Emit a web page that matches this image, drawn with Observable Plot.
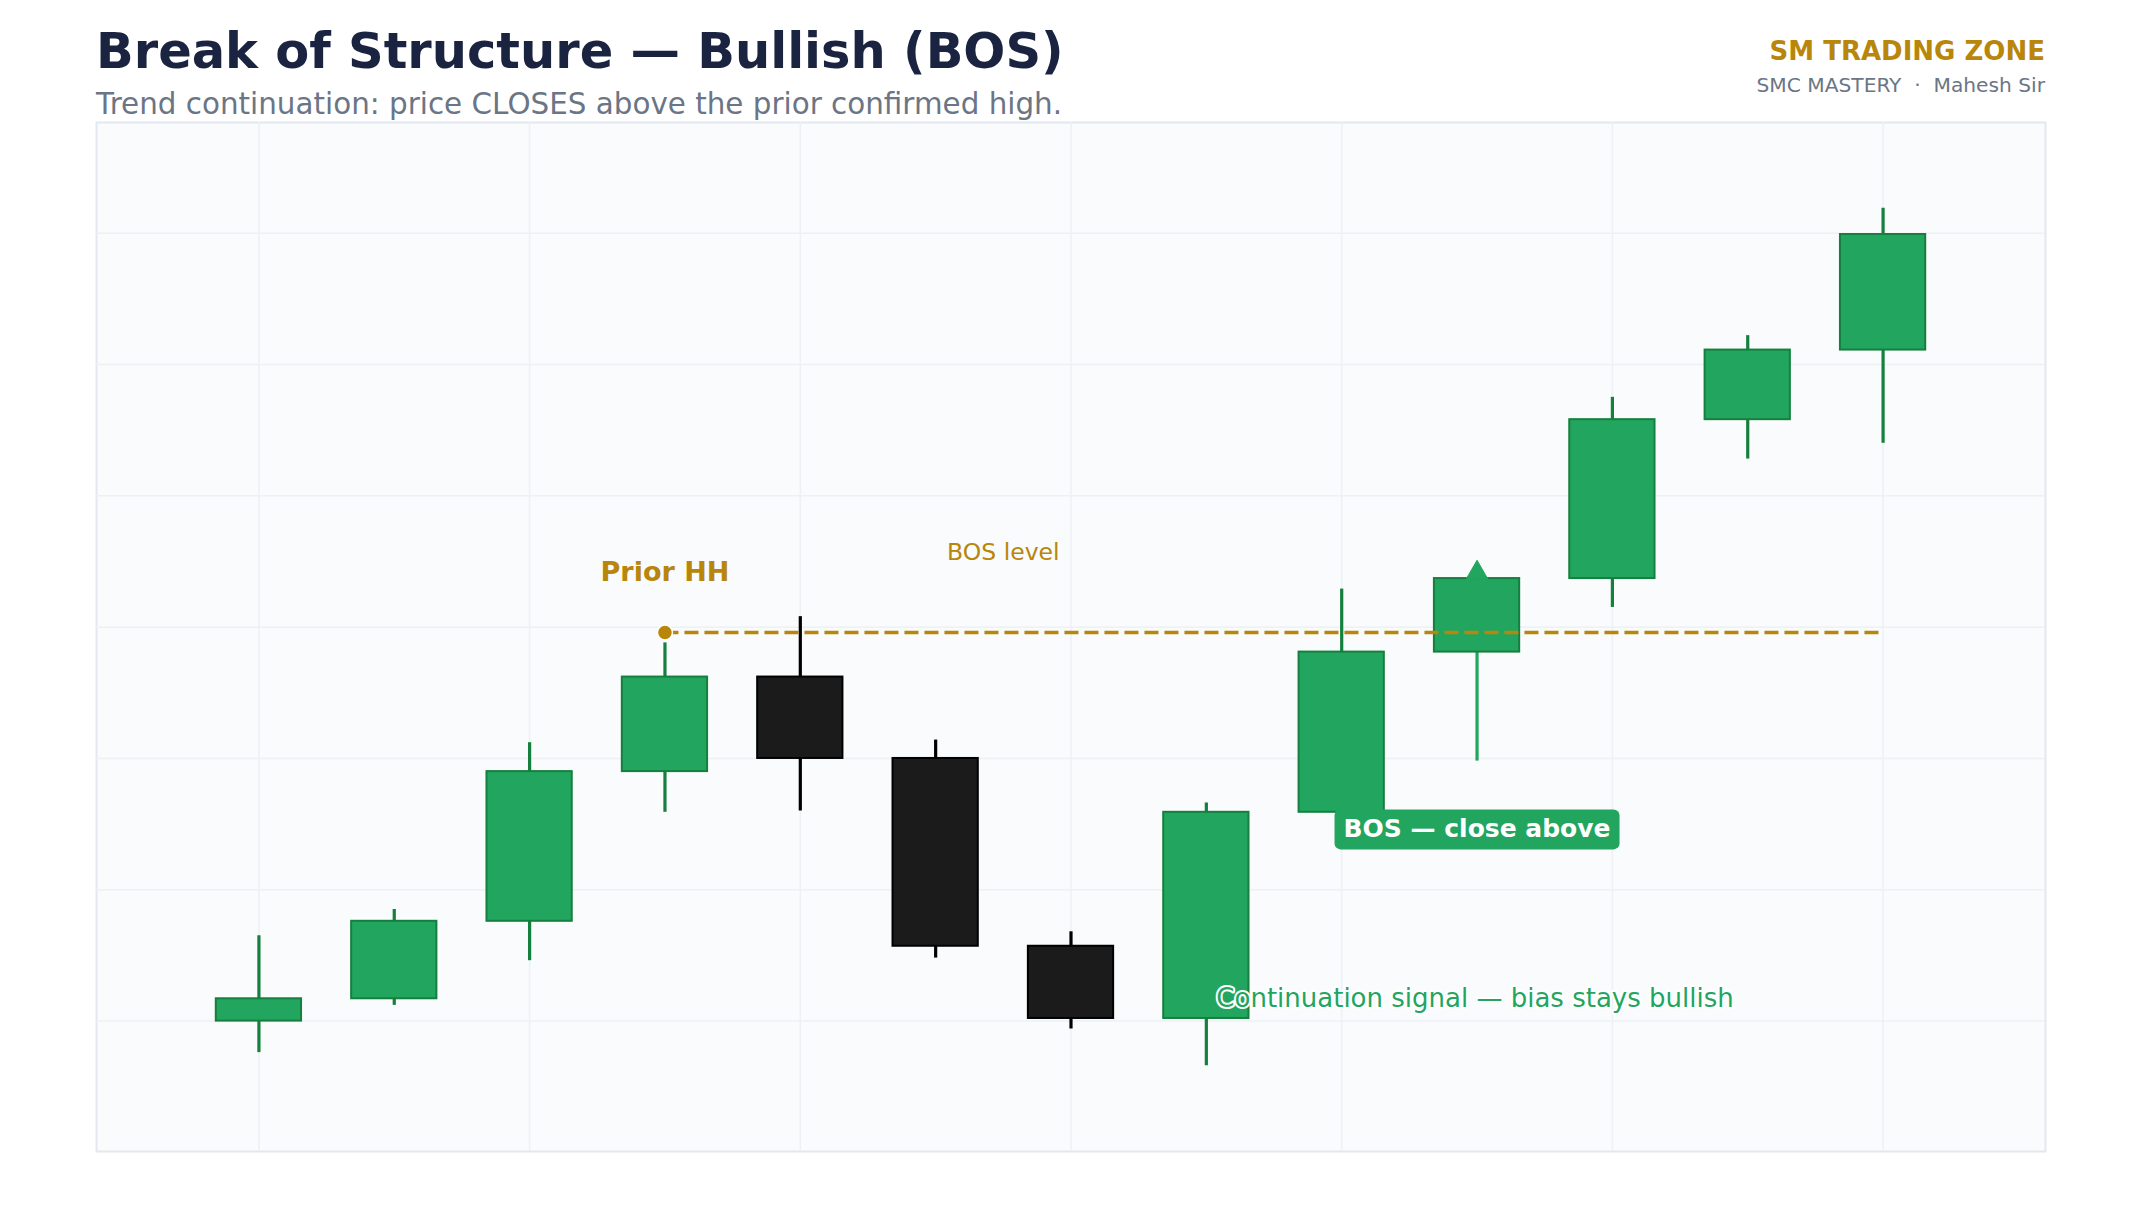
<!DOCTYPE html>
<html>
<head>
<meta charset="utf-8">
<script src="https://cdn.jsdelivr.net/npm/d3@7"></script>
<script src="https://cdn.jsdelivr.net/npm/@observablehq/plot@0.6"></script>
<style>
  html, body { margin: 0; padding: 0; background: #ffffff; }
  body { width: 2142px; height: 1224px; overflow: hidden; font-family: "DejaVu Sans", sans-serif; position: relative; }
  #header { position: absolute; left: 0; top: 0; overflow: visible; }
  #chart { padding-top: 120px; }
  #chart svg { display: block; }
</style>
</head>
<body>
<svg id="header" width="2142" height="130" xmlns="http://www.w3.org/2000/svg">
  <text x="96" y="68" font-family="DejaVu Sans" font-weight="bold" font-size="49.5" fill="#1a2340">Break of Structure — Bullish (BOS)</text>
  <text x="96" y="114" font-family="DejaVu Sans" font-size="29.4" fill="#6b7585">Trend continuation: price CLOSES above the prior confirmed high.</text>
  <text x="2045" y="60" text-anchor="end" font-family="DejaVu Sans" font-weight="bold" font-size="26" fill="#b8860b">SM TRADING ZONE</text>
  <text x="2045" y="92" text-anchor="end" font-family="DejaVu Sans" font-size="20.2" fill="#6b7585" xml:space="preserve">SMC MASTERY  ·  Mahesh Sir</text>
</svg>
<div id="chart"></div>
<script>
// ---- data ----
const candleIndex = [0, 1, 2, 3, 4, 5, 6, 7, 8, 9, 10, 11, 12];
const opens  = [100.0, 101.7, 107.6, 119.0, 126.2, 120.0, 105.7, 100.2, 115.9, 128.1, 133.7, 145.8, 151.1];
const highs  = [106.5, 108.5, 121.2, 128.8, 130.8, 121.4, 106.8, 116.6, 132.9, 133.7, 147.5, 152.2, 161.9];
const lows   = [ 97.6, 101.2, 104.6, 115.9, 116.0, 104.8,  99.4,  96.6, 115.5, 119.8, 131.5, 142.8, 144.0];
const closes = [101.7, 107.6, 119.0, 126.2, 120.0, 105.7, 100.2, 115.9, 128.1, 133.7, 145.8, 151.1, 159.9];

const xGridTicks = [0, 2, 4, 6, 8, 10, 12];
const yGridTicks = [100, 110, 120, 130, 140, 150, 160];

const priorHHIndex = 3;
const bosIndex = 9;
const bosLevel = 129.6;
const bosLineEnd = 12;

const labelTexts = ["Prior HH", "BOS level", "BOS — close above", "Continuation signal — bias stays bullish"];
const labelX = [3, 5.5, 9, 7];
const labelY = [134.2, 135.7, 114.6, 101.7];

// ---- styles ----
const GREEN = "#22a55f";
const GREEN_DARK = "#15803d";
const BLACK_FILL = "#1b1b1b";
const BLACK_STROKE = "#000000";
const GOLD = "#b8860b";

const candles = candleIndex.map((i, k) => ({
  i, open: opens[k], high: highs[k], low: lows[k], close: closes[k]
}));
const isUp = d => d.close >= d.open;

const lo = d3.min(lows), hi = d3.max(highs);
const yPad = 0.1 * (hi - lo);
const xFirst = d3.min(candleIndex), xLast = d3.max(candleIndex);
const xPad = 0.1 * (xLast - xFirst);

const bodyHalf = 0.315;

const labels = labelTexts.map((t, k) => ({text: t, x: labelX[k], y: labelY[k]}));
const bosLine = [{level: bosLevel, from: priorHHIndex, to: bosLineEnd}];

// measure box label
const cv = document.createElement("canvas").getContext("2d");
cv.font = "bold 25px 'DejaVu Sans'";
const boxW = cv.measureText(labels[2].text).width + 18;
const boxH = 40;
function roundedBox(w, h, rr) {
  return {
    draw(context) {
      const x0 = -w / 2, y0 = -h / 2, x1 = w / 2, y1 = h / 2;
      context.moveTo(x0 + rr, y0);
      context.lineTo(x1 - rr, y0);
      context.arcTo(x1, y0, x1, y0 + rr, rr);
      context.lineTo(x1, y1 - rr);
      context.arcTo(x1, y1, x1 - rr, y1, rr);
      context.lineTo(x0 + rr, y1);
      context.arcTo(x0, y1, x0, y1 - rr, rr);
      context.lineTo(x0, y0 + rr);
      context.arcTo(x0, y0, x0 + rr, y0, rr);
      context.closePath();
    }
  };
}

const chart = Plot.plot({
  width: 2142,
  height: 1033,
  marginLeft: 96,
  marginRight: 97,
  marginTop: 2,
  marginBottom: 2,
  x: {domain: [xFirst - xPad, xLast + xPad], axis: null},
  y: {domain: [lo - yPad, hi + yPad], axis: null},
  style: {fontFamily: "DejaVu Sans", background: "transparent", overflow: "visible"},
  marks: [
    Plot.frame({fill: "#f9fbfd", stroke: "#e3e7ef", strokeWidth: 2}),
    Plot.ruleX(xGridTicks, {stroke: "#edf0f4", strokeWidth: 1.5}),
    Plot.ruleY(yGridTicks, {stroke: "#edf0f4", strokeWidth: 1.5}),
    // wicks
    Plot.ruleX(candles, {
      x: "i", y1: "low", y2: "high", strokeWidth: 3.2,
      stroke: d => d.i === bosIndex ? GREEN : (isUp(d) ? GREEN_DARK : BLACK_STROKE)
    }),
    // bodies
    Plot.rect(candles, {
      x1: d => d.i - bodyHalf, x2: d => d.i + bodyHalf,
      y1: d => Math.min(d.open, d.close), y2: d => Math.max(d.open, d.close),
      fill: d => isUp(d) ? GREEN : BLACK_FILL,
      stroke: d => isUp(d) ? GREEN_DARK : BLACK_STROKE,
      strokeWidth: 2
    }),
    // BOS marker triangle
    Plot.dot(candles.filter(d => d.i === bosIndex), {
      x: "i", y: "close", symbol: "triangle", r: 7.9, dy: -6, fill: GREEN, stroke: GREEN, strokeWidth: 1, strokeLinejoin: "round"
    }),
    // BOS level dashed line
    Plot.ruleY(bosLine, {
      y: "level", x1: "from", x2: "to", stroke: GOLD, strokeWidth: 3.5, strokeDasharray: "14,6"
    }),
    Plot.dot(bosLine, {x: "from", y: "level", r: 7.5, fill: GOLD, stroke: "#ffffff", strokeWidth: 1.5}),
    // labels
    Plot.text([labels[0]], {x: "x", y: "y", text: "text", fill: GOLD, fontSize: 27, fontWeight: "bold"}),
    Plot.text([labels[1]], {x: "x", y: "y", text: "text", fill: GOLD, fontSize: 23.5}),
    Plot.dot([labels[2]], {x: "x", y: "y", r: 10, symbol: roundedBox(boxW, boxH, 6), fill: GREEN}),
    Plot.text([labels[2]], {x: "x", y: "y", text: "text", fill: "#ffffff", fontSize: 25, fontWeight: "bold"}),
    Plot.text([labels[3]], {
      x: "x", y: "y", text: "text", fill: GREEN, fontSize: 26, textAnchor: "start", dx: 10,
      stroke: "#ffffff", strokeWidth: 4
    })
  ]
});
document.getElementById("chart").appendChild(chart);
</script>
</body>
</html>
